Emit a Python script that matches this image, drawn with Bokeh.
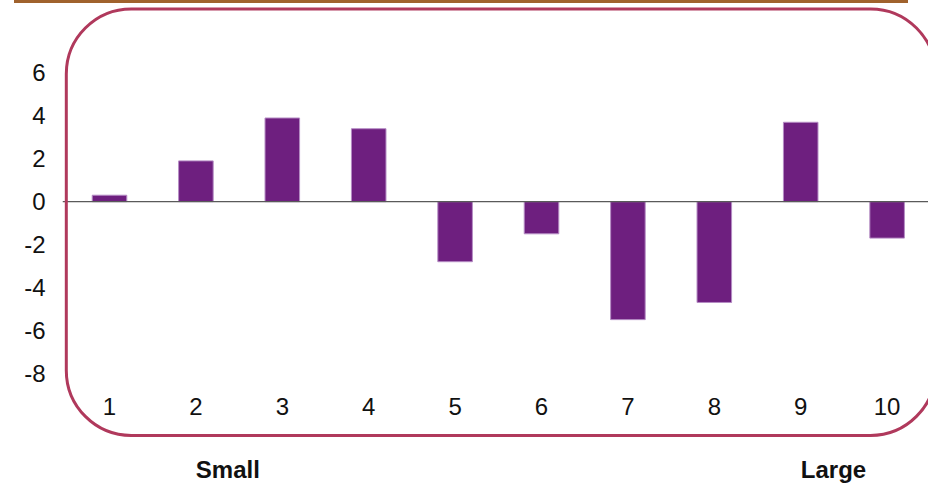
from bokeh.plotting import figure
from bokeh.layouts import column
from bokeh.models import Range1d, FixedTicker, Span, BoxAnnotation, Div
from bokeh.core.properties import value
from bokeh.embed import file_html
from bokeh.resources import INLINE

# decile portfolios, small to large
deciles = [1, 2, 3, 4, 5, 6, 7, 8, 9, 10]
returns = [0.3, 1.9, 3.9, 3.4, -2.8, -1.5, -5.5, -4.7, 3.7, -1.7]
y_ticks = [-8, -6, -4, -2, 0, 2, 4, 6]
size_labels = ["Small", "Large"]

FONT = "Liberation Sans"
BAR = "#6E1F7F"
FRAME = "#B0395C"
RULE = "#A0622D"

p = figure(width=928, height=482, output_backend="svg", toolbar_location=None,
           x_range=Range1d(0.456, 10.479), y_range=Range1d(-10.995, 9.237),
           min_border_left=62, min_border_right=0, min_border_top=0,
           min_border_bottom=45, margin=0)
p.outline_line_color = None
p.grid.visible = False
p.background_fill_color = "white"

p.add_layout(Span(location=0, dimension="width", line_color="#5a5a5a",
                  line_width=1.2))

p.vbar(x=deciles, top=returns, bottom=0, width=0.4,
       fill_color=BAR, line_color="#B58CC4", line_width=1)

# decile numbers along the bottom of the panel
p.text(x=deciles, y=[-9.54] * len(deciles), text=[str(d) for d in deciles],
       text_align="center", text_baseline="middle",
       text_font=value(FONT), text_font_size="24px", text_color="#111111")

# rounded panel border
p.add_layout(BoxAnnotation(left=0.5, right=10.56, top=8.98, bottom=-10.9,
                           fill_alpha=0, line_color=FRAME, line_alpha=1,
                           line_width=3, border_radius=65, level="overlay"))

# axes: labels only
for ax in (p.xaxis[0], p.yaxis[0]):
    ax.axis_line_color = None
    ax.major_tick_line_color = None
    ax.minor_tick_line_color = None
    ax.major_tick_out = 0
    ax.major_label_text_font = FONT
    ax.major_label_text_color = "#111111"

p.yaxis.ticker = FixedTicker(ticks=y_ticks)
p.yaxis.major_label_overrides = {t: str(t) for t in y_ticks}
p.yaxis.major_label_text_font_size = "24px"
p.yaxis.major_label_standoff = 17

size_pos = [2.37, 9.38]
p.xaxis.ticker = FixedTicker(ticks=size_pos)
p.xaxis.major_label_overrides = dict(zip(size_pos, size_labels))
p.xaxis.major_label_text_font_size = "24px"
p.xaxis.major_label_text_font_style = "bold"
p.xaxis.major_label_standoff = 18

rule = Div(text="", width=894, height=3, margin=(0, 0, 0, 14),
           styles={"background-color": RULE, "overflow": "hidden",
                   "font-size": "0", "line-height": "0"})

layout = column(rule, p, spacing=0, margin=0)
open("out.html", "w").write(file_html(layout, INLINE))
